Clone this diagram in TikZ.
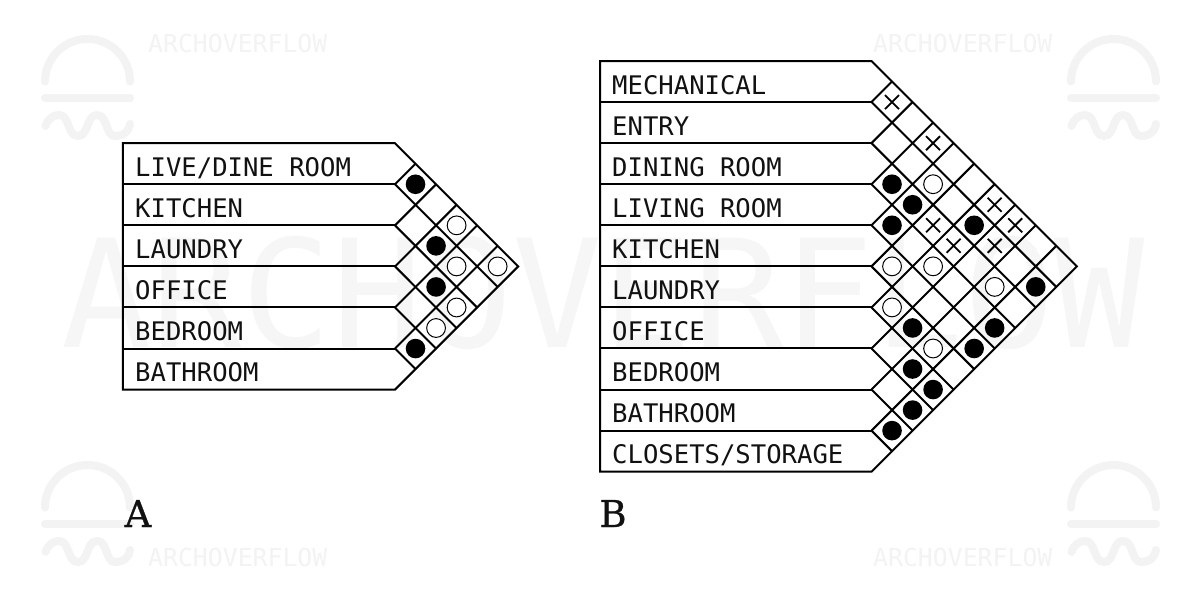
\documentclass[tikz,border=0pt]{standalone}
\usepackage{fontspec}
\setmainfont{DejaVu Sans Mono}
\newfontfamily\serifbig[FakeBold=0.7]{DejaVu Serif}
\definecolor{wm}{HTML}{F3F3F3}
\definecolor{wmb}{HTML}{F6F6F6}
\definecolor{ink}{HTML}{111111}
\tikzset{
  px/.style={x=1pt,y=-1pt},
  outline/.style={draw=black,line width=2pt,line join=miter},
  gridline/.style={draw=black,line width=2pt,line cap=butt},
  roomlabel/.style={anchor=base west,inner sep=0pt,font=\fontsize{25.6}{26}\selectfont,text=ink},
  chartletter/.style={anchor=base,inner sep=0pt,font=\serifbig\fontsize{37}{37}\selectfont,text=ink},
  wmsmall/.style={anchor=base west,inner sep=0pt,font=\fontsize{24.8}{25}\selectfont,text=wm},
  wmbig/.style={anchor=base,inner sep=0pt,font=\fontsize{150}{150}\selectfont,text=wmb},
  wmicon/.style={draw=wm,line width=8pt,line cap=round,line join=round},
  fullmark/.style={fill=black,draw=none},
  openmark/.style={fill=white,draw=black,line width=1pt},
  crossmark/.style={draw=black,line width=1.8pt}
}
\newcommand{\cellfull}[4]{\fill[fullmark] ({#1+(#4-#3)*20.53},{#2+41.07*(#3+#4+1)/2}) circle (9.8);}
\newcommand{\cellopen}[4]{\draw[openmark] ({#1+(#4-#3)*20.53},{#2+41.07*(#3+#4+1)/2}) circle (9.4);}
\newcommand{\cellcross}[4]{\draw[crossmark] ({#1+(#4-#3)*20.53-7},{#2+41.07*(#3+#4+1)/2-7}) -- ++(14,14) ({#1+(#4-#3)*20.53-7},{#2+41.07*(#3+#4+1)/2+7}) -- ++(14,-14);}
\newcommand{\wmlogo}[2]{%
  \begin{scope}[shift={(#1,#2)}]
    \draw[wmicon] (45,81.5) arc[start angle=180,end angle=360,radius=42.5];
    \draw[wmicon] (45,98.2) -- (130,98.2);
    \draw[wmicon] (45.5,126) .. controls (48,119) and (53,115) .. (59,115)
      .. controls (70,115) and (67,136) .. (78,136)
      .. controls (89,136) and (86,115) .. (97,115)
      .. controls (108,115) and (105,136) .. (115,136)
      .. controls (124,136) and (129,131) .. (130,124);
  \end{scope}}
\newcommand{\chartgrid}[4]{%
  \pgfmathsetmacro{\bot}{#3+#4*41.07}
  \pgfmathsetmacro{\mid}{#3+#4*41.07/2}
  \pgfmathsetmacro{\tip}{#2+#4*20.53}
  \foreach \k in {1,...,\numexpr#4-1\relax}{
    \draw[gridline] (#1,{#3+\k*41.07}) -- (#2,{#3+\k*41.07});
    \pgfmathsetmacro{\n}{#4-\k}
    \draw[gridline] (#2,{#3+\k*41.07}) -- ++({\n*20.53},{\n*20.535});
    \pgfmathsetmacro{\m}{\k}
    \draw[gridline] (#2,{#3+\k*41.07}) -- ++({\m*20.53},{-\m*20.535});
  }
  \draw[outline] (#2,#3) -- (#1,#3) -- (#1,\bot) -- (#2,\bot) -- (\tip,\mid) -- cycle;
}
\begin{document}
\begin{tikzpicture}[px]
\useasboundingbox (0,0) rectangle (1200,600);
\fill[white] (0,0) rectangle (1200,600);
\node[wmbig] (wmcentre) at (603,347) {ARCHOVERFLOW};
\wmlogo{0}{0}\wmlogo{1026}{0}\wmlogo{0}{426}\wmlogo{1026}{426}
\node[wmsmall] (wmtl) at (148,52) {ARCHOVERFLOW};
\node[wmsmall] (wmtr) at (873,52) {ARCHOVERFLOW};
\node[wmsmall] (wmbl) at (148,566) {ARCHOVERFLOW};
\node[wmsmall] (wmbr) at (873,566) {ARCHOVERFLOW};
\chartgrid{122.8}{395}{143.2}{6}
\foreach \nm/\txt [count=\r from 0] in {a0/{LIVE/DINE ROOM},a1/KITCHEN,a2/LAUNDRY,a3/OFFICE,a4/BEDROOM,a5/BATHROOM}
  \node[roomlabel] (\nm) at (135,{143.2+41.07*\r+33.3}) {\txt};
\cellfull{395}{143.2}{0}{1}\cellopen{395}{143.2}{0}{3}\cellfull{395}{143.2}{1}{3}
\cellopen{395}{143.2}{1}{4}\cellopen{395}{143.2}{0}{5}\cellfull{395}{143.2}{2}{4}
\cellopen{395}{143.2}{2}{5}\cellopen{395}{143.2}{3}{5}\cellfull{395}{143.2}{4}{5}
\chartgrid{600}{871.5}{61}{10}
\foreach \nm/\txt [count=\r from 0] in {b0/MECHANICAL,b1/ENTRY,b2/DINING ROOM,b3/LIVING ROOM,b4/KITCHEN,b5/LAUNDRY,b6/OFFICE,b7/BEDROOM,b8/BATHROOM,b9/{CLOSETS/STORAGE}}
  \node[roomlabel] (\nm) at (612,{61+41.07*\r+33.3}) {\txt};
\cellcross{871.5}{61}{0}{1}\cellcross{871.5}{61}{0}{3}\cellfull{871.5}{61}{2}{3}
\cellopen{871.5}{61}{1}{4}\cellfull{871.5}{61}{2}{4}\cellfull{871.5}{61}{3}{4}
\cellcross{871.5}{61}{2}{5}\cellfull{871.5}{61}{1}{6}\cellcross{871.5}{61}{0}{6}
\cellcross{871.5}{61}{0}{7}\cellcross{871.5}{61}{2}{6}\cellcross{871.5}{61}{1}{7}
\cellopen{871.5}{61}{4}{5}\cellopen{871.5}{61}{3}{6}\cellopen{871.5}{61}{2}{8}
\cellfull{871.5}{61}{1}{9}\cellopen{871.5}{61}{5}{6}\cellfull{871.5}{61}{5}{7}
\cellfull{871.5}{61}{3}{9}\cellopen{871.5}{61}{5}{8}\cellfull{871.5}{61}{4}{9}
\cellfull{871.5}{61}{6}{8}\cellfull{871.5}{61}{6}{9}\cellfull{871.5}{61}{7}{9}
\cellfull{871.5}{61}{8}{9}
\node[chartletter] (lettera) at (138,527) {A};
\node[chartletter] (letterb) at (613,527) {B};
\end{tikzpicture}
\end{document}
